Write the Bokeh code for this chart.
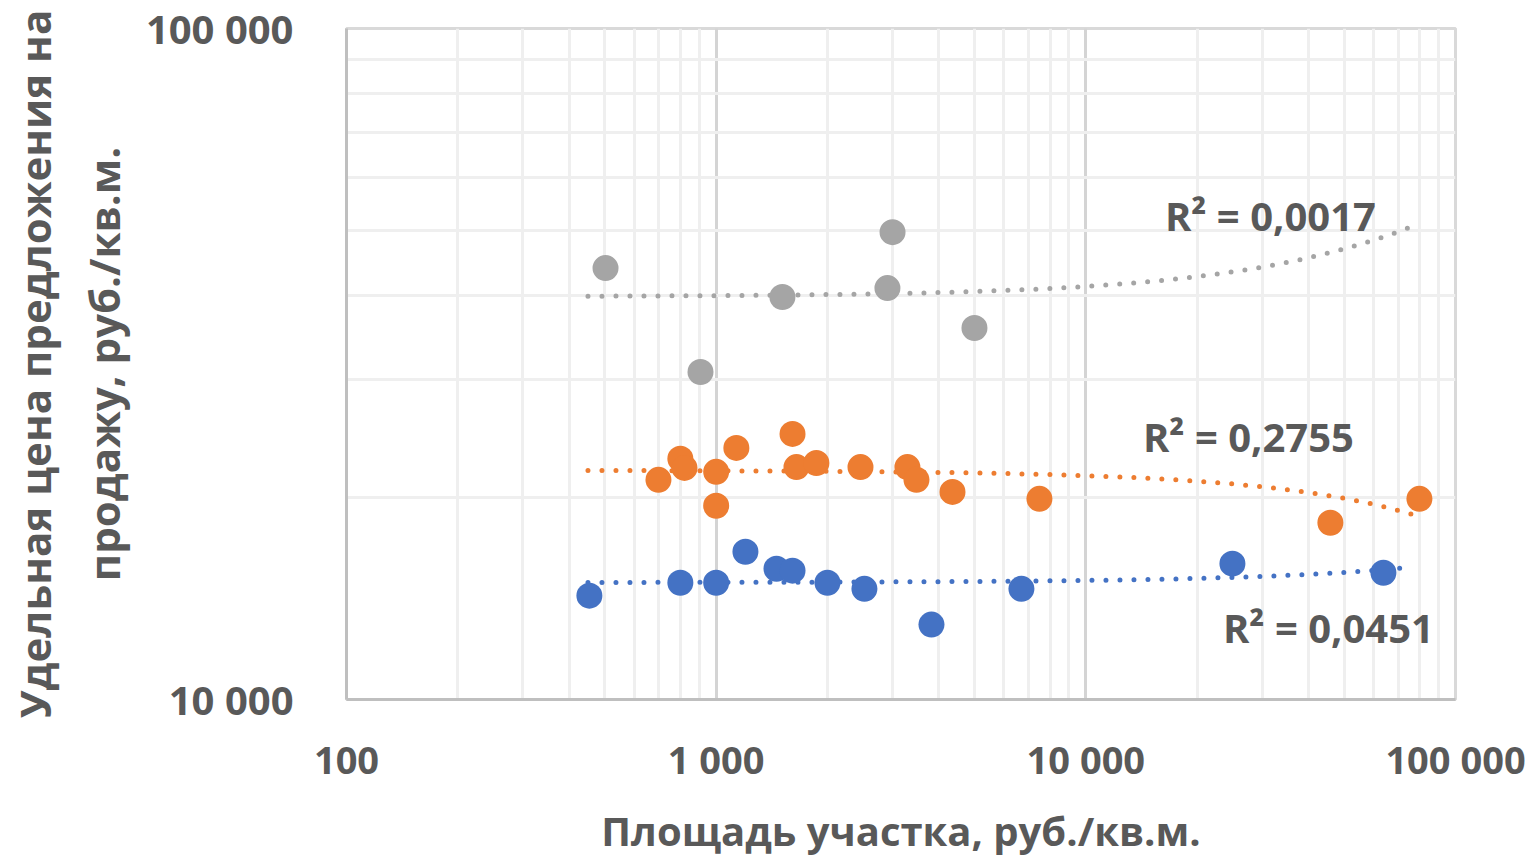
import numpy as np
from bokeh.plotting import figure
from bokeh.models import Label, FixedTicker, Range1d
from bokeh.embed import file_html
from bokeh.resources import INLINE

# ---- data ----
blue_x = [454, 800, 1000, 1200, 1456, 1609, 2000, 2518, 3823, 6695, 24920, 63830]
blue_y = [14280, 14930, 14930, 16600, 15660, 15560, 14930, 14620, 12930, 14620, 15940, 15450]

orange_x = [698, 800, 821, 1000, 1000, 1134, 1609, 1649, 1867, 2457, 3291, 3482, 4358, 7490, 45870, 79870]
orange_y = [21250, 22840, 22140, 21840, 19440, 23710, 24880, 22200, 22510, 22200, 22200, 21250, 20390, 19910, 18340, 19910]

gray_x = [502, 907, 1511, 2906, 3000, 4997]
gray_y = [43950, 30760, 39790, 41030, 49720, 35780]

r2_texts = ["R² = 0,0451", "R² = 0,2755", "R² = 0,0017"]
trend_span = [450, 76000]

x_tick_values = [100, 1000, 10000, 100000]
x_tick_labels = ["100", "1 000", "10 000", "100 000"]
y_tick_values = [10000, 100000]
y_tick_labels = ["10 000", "100 000"]

x_title = "Площадь участка, руб./кв.м."
y_title = "Удельная цена предложения на\nпродажу, руб./кв.м."

BLUE = "#4472C4"
ORANGE = "#ED7D31"
GRAY = "#A5A5A5"
TXT = "#595959"
FONT = "Open Sans"

p = figure(width=1529, height=860, x_axis_type="log", y_axis_type="log",
           x_range=Range1d(100, 100000), y_range=Range1d(10000, 100000),
           output_backend="svg", toolbar_location=None, title=None,
           min_border_left=346, min_border_right=74, min_border_top=28,
           min_border_bottom=160)
p.background_fill_color = "white"
p.border_fill_color = "white"
p.outline_line_color = "#d9d9d9"
p.outline_line_width = 3

x_minor = [m * 10 ** k for k in (2, 3, 4) for m in range(2, 10)]
y_minor = [m * 10 ** 4 for m in range(2, 10)]
p.xaxis.ticker = FixedTicker(ticks=x_tick_values, minor_ticks=x_minor)
p.yaxis.ticker = FixedTicker(ticks=y_tick_values, minor_ticks=y_minor)
p.xaxis.major_label_overrides = dict(zip(x_tick_values, x_tick_labels))
p.yaxis.major_label_overrides = dict(zip(y_tick_values, y_tick_labels))

for ax in (p.xaxis[0], p.yaxis[0]):
    ax.axis_line_color = "#bfbfbf"
    ax.axis_line_width = 3
    ax.major_tick_line_color = None
    ax.minor_tick_line_color = None
    ax.major_tick_out = 0
    ax.major_tick_in = 0
    ax.minor_tick_out = 0
    ax.minor_tick_in = 0
    ax.major_label_text_font = FONT
    ax.major_label_text_font_style = "bold"
    ax.major_label_text_color = TXT
    ax.axis_label_text_font = FONT
    ax.axis_label_text_font_style = "bold"
    ax.axis_label_text_color = TXT
p.xaxis.axis_label_text_font_size = "40px"
p.yaxis.axis_label_text_font_size = "42px"
p.xaxis.major_label_text_font_size = "38px"
p.yaxis.major_label_text_font_size = "40px"
p.xaxis.major_label_standoff = 33
p.yaxis.major_label_standoff = 53
p.xaxis.axis_label = x_title
p.yaxis.axis_label = y_title
p.xaxis.axis_label_standoff = 15
p.yaxis.axis_label_standoff = 11

for g in (p.xgrid[0], p.ygrid[0]):
    g.grid_line_color = "#d4d4d4"
    g.grid_line_width = 3
    g.minor_grid_line_color = "#efefef"
    g.minor_grid_line_width = 3
p.ygrid.grid_line_color = None

# trend lines (linear least squares, drawn on log axes)
tx = np.geomspace(trend_span[0], trend_span[1], 300)
series = [(blue_x, blue_y, BLUE), (orange_x, orange_y, ORANGE), (gray_x, gray_y, GRAY)]
for xs, ys, col in series:
    k, b = np.polyfit(np.array(xs, float), np.array(ys, float), 1)
    p.line(tx, k * tx + b, line_color=col, line_width=5, line_dash="0 14", line_cap="round")

for xs, ys, col in series:
    p.scatter(xs, ys, size=26, fill_color=col, line_color=col, line_width=0)

# R² labels
label_pos = [(45320, 12800), (27530, 24630), (31570, 52700)]
for (lx, ly), t in zip(label_pos, r2_texts):
    p.add_layout(Label(x=lx, y=ly, text=t, text_align="center", text_baseline="middle",
                       text_font=FONT, text_font_style="bold",
                       text_font_size="40px", text_color=TXT))

open("out.html", "w").write(file_html(p, INLINE))
